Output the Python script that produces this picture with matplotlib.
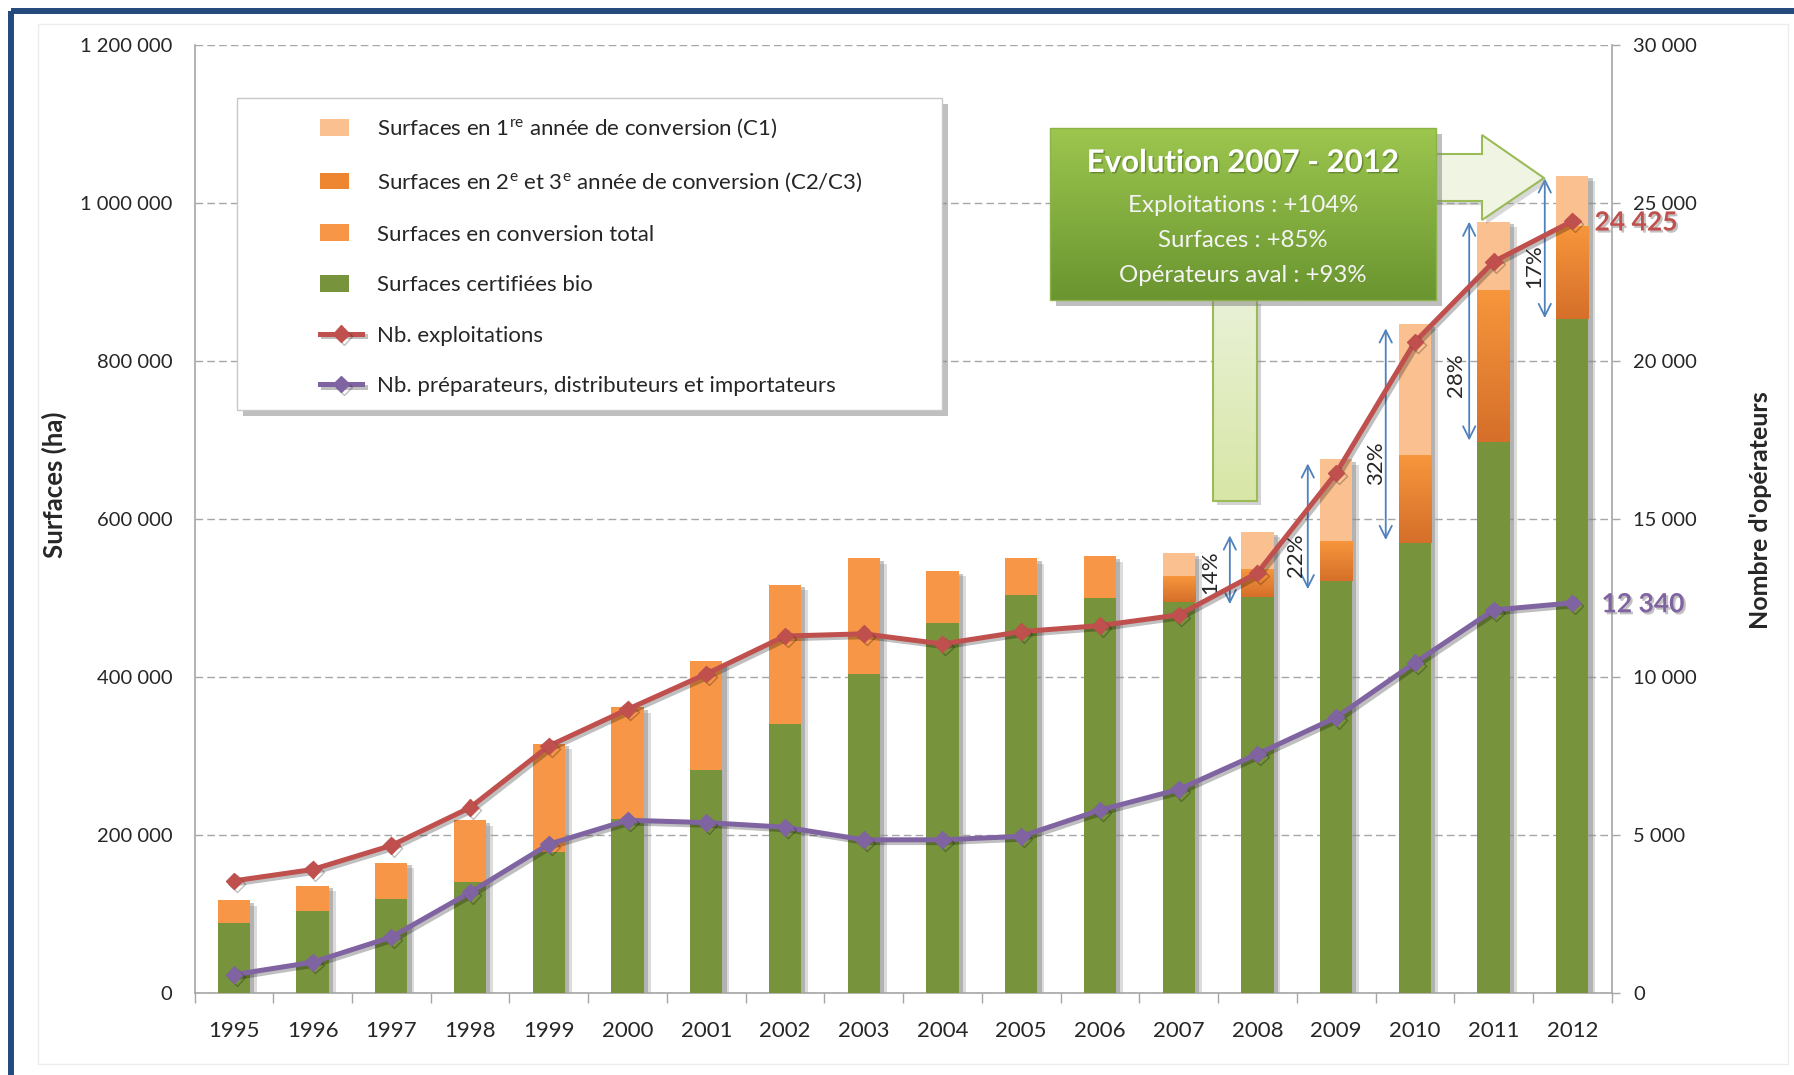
import numpy as np
import matplotlib
matplotlib.use('Agg')
import matplotlib.pyplot as plt
from matplotlib import patheffects as pe
from matplotlib.patches import Rectangle, Polygon
from matplotlib.container import BarContainer
from matplotlib.legend_handler import HandlerPatch, update_from_first_child
from matplotlib.colors import to_rgb

plt.rcParams['font.family'] = ['Lato', 'DejaVu Sans']
plt.rcParams['mathtext.fontset'] = 'custom'
plt.rcParams['mathtext.rm'] = 'Lato'
plt.rcParams['mathtext.it'] = 'Lato:italic'
plt.rcParams['mathtext.bf'] = 'Lato:bold'
plt.rcParams['mathtext.default'] = 'regular'

# ---------------- data ----------------
years = ['1995', '1996', '1997', '1998', '1999', '2000', '2001', '2002', '2003',
         '2004', '2005', '2006', '2007', '2008', '2009', '2010', '2011', '2012']
certified = [87900, 103800, 118300, 140000, 177600, 219700, 282000, 340000, 403700,
             467500, 503700, 499300, 494300, 500700, 521700, 569800, 697000, 852800]
conv_total = [29000, 31900, 46300, 78300, 137700, 141900, 137600, 176700, 146300,
              66600, 46300, 53700, 0, 0, 0, 0, 0, 0]
c2c3 = [0, 0, 0, 0, 0, 0, 0, 0, 0, 0, 0, 0,
        31700, 35400, 50300, 110200, 192000, 117100]
c1 = [0, 0, 0, 0, 0, 0, 0, 0, 0, 0, 0, 0,
      30400, 47600, 103800, 167000, 87300, 64600]
exploitations = [3540, 3900, 4660, 5860, 7810, 8970, 10090, 11290, 11360,
                 11040, 11430, 11620, 11960, 13290, 16450, 20600, 23140, 24425]
operateurs = [570, 965, 1760, 3175, 4700, 5460, 5385, 5240, 4840,
              4840, 4950, 5780, 6435, 7555, 8715, 10445, 12115, 12340]
left_ticks = [0, 200000, 400000, 600000, 800000, 1000000, 1200000]
right_ticks = [0, 5000, 10000, 15000, 20000, 25000, 30000]

pct_labels = ['14%', '22%', '32%', '28%', '17%']
pct_x = [12.65, 13.64, 14.63, 15.69, 16.65]
pct_top = [579000, 670200, 841200, 976300, 1031200]
pct_bottom = [492000, 510900, 573200, 699200, 854200]
pct_text_x = [12.40, 13.49, 14.51, 15.52, 16.52]
pct_text_y = [532000, 554000, 670000, 782000, 920000]

box_title = 'Evolution 2007 - 2012'
box_lines = ['Exploitations : +104%', 'Surfaces : +85%', 'Opérateurs aval : +93%']

labels = ['Surfaces en 1$^{re}$ année de conversion (C1)',
          'Surfaces en 2$^{e}$ et 3$^{e}$ année de conversion (C2/C3)',
          'Surfaces en conversion total',
          'Surfaces certifiées bio',
          'Nb. exploitations',
          'Nb. préparateurs, distributeurs et importateurs']

# ---------------- style ----------------
GREEN = '#77933C'
ORANGE = '#F79646'
LIGHT = '#FAC090'
C23 = '#EE8530'
RED = '#C0504D'
PURPLE = '#8064A2'
BLUE = '#4F81BD'
GRID = '#A6A6A6'
TXT = '#262626'


def fmt(v):
    return f"{int(v):,}".replace(',', ' ')


W, H = 1794, 1075
fig = plt.figure(figsize=(W / 100, H / 100), dpi=100, facecolor='white')

ax = fig.add_axes([194.5 / W, 1 - 992.7 / H, 1417.2 / W, 947.7 / H])
ax2 = ax.twinx()

x = np.arange(len(years))
bw = 0.41
cert = np.array(certified)
tot = np.array(conv_total)
b23 = np.array(c2c3)
b1 = np.array(c1)
total = cert + tot + b23 + b1

# soft shadow behind each full bar
ax.bar(x, total, bw, color='white', zorder=1.5,
       path_effects=[pe.SimplePatchShadow(offset=(5, -4), shadow_rgbFace='#9a9a9a', alpha=0.35),
                     pe.SimplePatchShadow(offset=(3, -2), shadow_rgbFace='#808080', alpha=0.45)])

bars_cert = ax.bar(x, cert, bw, color=GREEN, zorder=3)
bars_tot = ax.bar(x, tot, bw, bottom=cert, color=ORANGE, zorder=3)
bars_23 = ax.bar(x, b23, bw, bottom=cert + tot, color=C23, zorder=3)
bars_1 = ax.bar(x, b1, bw, bottom=cert + tot + b23, color=LIGHT, zorder=3)

# gradient on C2/C3 segments
top_c = np.array(to_rgb('#F7963C'))
bot_c = np.array(to_rgb('#D56F2A'))
t = np.linspace(0, 1, 64)[:, None, None]
grad = top_c * (1 - t) + bot_c * t
for p in bars_23.patches:
    if p.get_height() > 0:
        x0 = p.get_x()
        ax.imshow(grad, extent=(x0, x0 + p.get_width(), p.get_y(), p.get_y() + p.get_height()),
                  origin='upper', aspect='auto', interpolation='bilinear', zorder=3.2)

line_kw = dict(lw=3.6, marker='D', ms=8.5, zorder=4)
l_exp, = ax2.plot(x, exploitations, color=RED, mec=RED, mfc=RED,
                  path_effects=[pe.SimpleLineShadow(offset=(2, -2), alpha=0.25), pe.Normal()], **line_kw)
l_op, = ax2.plot(x, operateurs, color=PURPLE, mec=PURPLE, mfc=PURPLE,
                 path_effects=[pe.SimpleLineShadow(offset=(2, -2), alpha=0.25), pe.Normal()], **line_kw)

# percentage arrows
for lab, px, yt, yb, tx, ty in zip(pct_labels, pct_x, pct_top, pct_bottom, pct_text_x, pct_text_y):
    ax.annotate('', xy=(px, yt), xytext=(px, yb),
                arrowprops=dict(arrowstyle='<->', color=BLUE, lw=1.3, shrinkA=0, shrinkB=0,
                                mutation_scale=22), zorder=5)
    ax.text(tx, ty, lab, rotation=90, ha='center', va='center', fontsize=16, color=TXT, zorder=5)

# final value labels
shadow_txt = [pe.withSimplePatchShadow(offset=(1.5, -1.5), shadow_rgbFace='#999999', alpha=0.6)]
ax2.annotate(fmt(exploitations[-1]), xy=(x[-1], exploitations[-1]), xytext=(16, -1),
             textcoords='offset points', ha='left', va='center', fontsize=19,
             fontweight='bold', color=RED, path_effects=shadow_txt)
ax2.annotate(fmt(operateurs[-1]), xy=(x[-1], operateurs[-1]), xytext=(21, -1),
             textcoords='offset points', ha='left', va='center', fontsize=19,
             fontweight='bold', color=PURPLE, path_effects=shadow_txt)

# axes formatting
ax.set_xlim(-0.5, len(years) - 0.5)
ax.set_ylim(0, 1200000)
ax2.set_ylim(0, 30000)
ax.set_xticks(x)
ax.set_xticklabels(years)
ax.set_xticks(np.arange(-0.5, len(years), 1), minor=True)
ax.set_yticks(left_ticks)
ax.set_yticklabels([fmt(v) for v in left_ticks])
ax2.set_yticks(right_ticks)
ax2.set_yticklabels([fmt(v) for v in right_ticks])

ax.tick_params(axis='x', which='major', length=0, pad=20.5, labelsize=16, labelcolor=TXT)
ax.tick_params(axis='x', which='minor', length=7, width=1, color=GRID)
ax.tick_params(axis='y', length=0, pad=16, labelsize=14.5, labelcolor=TXT)
ax2.tick_params(axis='y', length=6, width=1, color=GRID, pad=9.5, labelsize=14.5, labelcolor=TXT)

ax.set_axisbelow(True)
ax.yaxis.grid(True, linestyle=(0, (5.5, 3)), color=GRID, lw=1.0)
for s in ['top', 'right']:
    ax.spines[s].set_visible(False)
for s in ['top', 'left', 'bottom']:
    ax2.spines[s].set_visible(False)
for s in ['left', 'bottom']:
    ax.spines[s].set_color(GRID)
    ax.spines[s].set_linewidth(1.2)
ax2.spines['right'].set_color(GRID)
ax2.spines['right'].set_linewidth(1.2)

# ---------------- overlay (pixel coordinates) ----------------
ov = fig.add_axes([0, 0, 1, 1], zorder=10)
ov.set_facecolor('none')

# outer blue frame and inner panel
ov.add_patch(Rectangle((11, 11), W + 40, H + 40, fill=False, ec='#244A7E', lw=4.3, zorder=0))
ov.add_patch(Rectangle((38, 24), 1750, 1040, fill=False, ec='#EDEDED', lw=1, zorder=0))

# axis titles
ov.text(54, 485, 'Surfaces (ha)', rotation=90, ha='center', va='center', fontsize=18.5,
        fontweight='bold', color=TXT)
ov.text(1761, 510, "Nombre d'opérateurs", rotation=90, ha='center', va='center', fontsize=18,
        fontweight='bold', color=TXT)

# legend box
ov.add_patch(Rectangle((237, 98), 705, 312, fc='white', ec='#C8C8C8', lw=1, zorder=1,
                       path_effects=[pe.SimplePatchShadow(offset=(4, -4), shadow_rgbFace='#808080', alpha=0.5),
                                     pe.Normal()]))


def small_box(legend, orig_handle, xdescent, ydescent, width, height, fontsize):
    return Rectangle((-xdescent, -ydescent), width * 0.68, height)


leg = ov.legend([bars_1, bars_23, bars_tot, bars_cert, l_exp, l_op], labels,
                handler_map={BarContainer: HandlerPatch(patch_func=small_box,
                                                        update_func=update_from_first_child)},
                loc='upper left', bbox_to_anchor=(320, 117), bbox_transform=ov.transData,
                frameon=False, fontsize=16, handlelength=1.9, handleheight=0.78,
                handletextpad=0.68, labelspacing=1.37, borderpad=0, borderaxespad=0)
for txt in leg.get_texts():
    txt.set_color(TXT)
leg.set_zorder(6)

# big right arrow
ov.add_patch(Polygon([(1430, 154), (1482, 154), (1482, 135), (1544, 178), (1482, 220),
                      (1482, 201), (1430, 201)], closed=True, fc='#EFF5E2', ec='#9BBB59',
                     lw=1.5, zorder=2,
                     path_effects=[pe.SimplePatchShadow(offset=(3, -3), shadow_rgbFace='#909090', alpha=0.35),
                                   pe.Normal()]))

# vertical light green bar below the box
vg = np.array(to_rgb('#E9F1D6')) * (1 - t) + np.array(to_rgb('#D8E6A6')) * t
ov.add_patch(Rectangle((1213, 300), 44, 201, fc='#D8E6A6', ec='none', zorder=2,
                       path_effects=[pe.SimplePatchShadow(offset=(3, -3), shadow_rgbFace='#909090', alpha=0.4)]))
ov.imshow(vg, extent=(1213, 1257, 501, 300), origin='upper', aspect='auto',
          interpolation='bilinear', zorder=2.1)
ov.add_patch(Rectangle((1213, 300), 44, 201, fill=False, ec='#9BBB59', lw=1.5, zorder=2.2))

# green box
ov.add_patch(Rectangle((1050, 128), 386, 172, fc='#6E9632', ec='none', zorder=3,
                       path_effects=[pe.SimplePatchShadow(offset=(4, -4), shadow_rgbFace='#808080', alpha=0.5)]))
gg = np.array(to_rgb('#9CC64E')) * (1 - t) + np.array(to_rgb('#6A9530')) * t
ov.imshow(gg, extent=(1050, 1436, 300, 128), origin='upper', aspect='auto',
          interpolation='bilinear', zorder=3.1)
ov.add_patch(Rectangle((1050, 128), 386, 172, fill=False, ec='#8CB24A', lw=1, zorder=3.2))

title_fx = [pe.withSimplePatchShadow(offset=(1, -1), shadow_rgbFace='#3d5a1a', alpha=0.5)]
ov.text(1243, 163, box_title, ha='center', va='center', fontsize=22.5, fontweight='bold',
        color='white', zorder=4, path_effects=title_fx)
for i, s in enumerate(box_lines):
    ov.text(1243, 205 + 35.5 * i, s, ha='center', va='center', fontsize=17.3, color='#F4F4F4',
            zorder=4)

ov.set_xlim(0, W)
ov.set_ylim(H, 0)
ov.axis('off')

fig.savefig('out.png', dpi=100, facecolor='white')
